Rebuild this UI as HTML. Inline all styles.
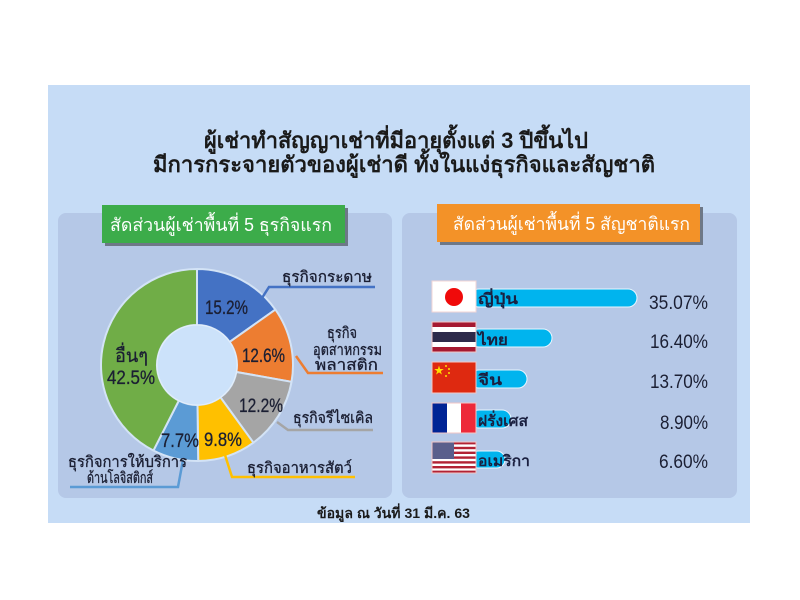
<!DOCTYPE html>
<html><head><meta charset="utf-8"><style>
html,body{margin:0;padding:0;background:#fff;}
svg{display:block;}
text{font-family:"Liberation Sans","Noto Sans CJK SC",sans-serif;}
</style></head><body>
<svg width="800" height="600" viewBox="0 0 800 600" xmlns="http://www.w3.org/2000/svg">
<rect x="0" y="0" width="800" height="600" fill="#ffffff"/>
<rect x="48" y="85" width="702" height="438" fill="#c6dcf6"/>
<!-- title -->
<text x="204" y="148" font-size="22" font-weight="bold" fill="#1a1a1a" textLength="384" lengthAdjust="spacingAndGlyphs">ผู้เช่าทำสัญญาเช่าที่มีอายุตั้งแต่ 3 ปีขึ้นไป</text>
<text x="153" y="172" font-size="22" font-weight="bold" fill="#1a1a1a" textLength="502" lengthAdjust="spacingAndGlyphs">มีการกระจายตัวของผู้เช่าดี ทั้งในแง่ธุรกิจและสัญชาติ</text>
<!-- inner panels -->
<rect x="58" y="213" width="334" height="285" rx="8" fill="#b5c8e7"/>
<rect x="402" y="213" width="335" height="285" rx="8" fill="#b5c8e7"/>
<!-- badges -->
<rect x="105" y="208" width="243" height="38" fill="#6e7887"/>
<rect x="102" y="205" width="243" height="38" fill="#3cac4a"/>
<text x="110" y="231" font-size="18" fill="#ffffff" textLength="222" lengthAdjust="spacingAndGlyphs">สัดส่วนผู้เช่าพื้นที่ 5 ธุรกิจแรก</text>
<rect x="440" y="207" width="263" height="38" fill="#6e7887"/>
<rect x="437" y="204" width="263" height="38" fill="#f39228"/>
<text x="453" y="230" font-size="18" fill="#ffffff" textLength="237" lengthAdjust="spacingAndGlyphs">สัดส่วนผู้เช่าพื้นที่ 5 สัญชาติแรก</text>
<!-- donut -->
<g stroke="#d3e3f6" stroke-width="2" stroke-linejoin="round">
<path d="M197,269 A96,96 0 0 1 275.39,309.59 L229.66,341.91 A40,40 0 0 0 197,325 Z" fill="#4472c4"/>
<path d="M275.39,309.59 A96,96 0 0 1 291.52,381.80 L236.38,372.00 A40,40 0 0 0 229.66,341.91 Z" fill="#ed7d31"/>
<path d="M291.52,381.80 A96,96 0 0 1 253.43,442.67 L220.51,397.36 A40,40 0 0 0 236.38,372.00 Z" fill="#a5a5a5"/>
<path d="M253.43,442.67 A96,96 0 0 1 198.21,460.99 L197.50,405.0 A40,40 0 0 0 220.51,397.36 Z" fill="#ffc000"/>
<path d="M198.21,460.99 A96,96 0 0 1 153.42,450.54 L178.84,400.64 A40,40 0 0 0 197.50,405.0 Z" fill="#5b9bd5"/>
<path d="M153.42,450.54 A96,96 0 0 1 197,269 L197,325 A40,40 0 0 0 178.84,400.64 Z" fill="#70ad47"/>
</g>
<circle cx="197" cy="365" r="40" fill="#cce2fa" stroke="#e4effb" stroke-width="1"/>
<!-- slice labels -->
<g font-size="19" fill="#1b1f33" stroke="#1b1f33" stroke-width="0.3">
<text x="205" y="314" textLength="43" lengthAdjust="spacingAndGlyphs">15.2%</text>
<text x="242" y="362" textLength="43" lengthAdjust="spacingAndGlyphs">12.6%</text>
<text x="239" y="412" textLength="44" lengthAdjust="spacingAndGlyphs">12.2%</text>
<text x="204" y="446" textLength="38" lengthAdjust="spacingAndGlyphs">9.8%</text>
<text x="161" y="447" textLength="38" lengthAdjust="spacingAndGlyphs">7.7%</text>
<text x="115" y="362" textLength="33" lengthAdjust="spacingAndGlyphs">อื่นๆ</text>
<text x="107" y="384" textLength="48" lengthAdjust="spacingAndGlyphs">42.5%</text>
</g>
<!-- leader lines -->
<g fill="none" stroke-width="2.5">
<polyline points="262,298 269,287 375,287" stroke="#4472c4"/>
<polyline points="296,356 308,373 383,373" stroke="#ed7d31"/>
<polyline points="277,422 288,430 373,430" stroke="#a5a5a5"/>
<polyline points="225,455 232,477 355,477" stroke="#ffc000"/>
<polyline points="183,460 178,487 70,487" stroke="#5b9bd5"/>
</g>
<g font-size="15.5" fill="#1b1f33" stroke="#1b1f33" stroke-width="0.35">
<text x="282" y="282" textLength="90" lengthAdjust="spacingAndGlyphs">ธุรกิจกระดาษ</text>
<text x="327" y="338" textLength="30" lengthAdjust="spacingAndGlyphs">ธุรกิจ</text>
<text x="313" y="355" textLength="69" lengthAdjust="spacingAndGlyphs">อุตสาหกรรม</text>
<text x="315" y="370" textLength="63" lengthAdjust="spacingAndGlyphs">พลาสติก</text>
<text x="293" y="423" textLength="80" lengthAdjust="spacingAndGlyphs">ธุรกิจรีไซเคิล</text>
<text x="247" y="473" textLength="105" lengthAdjust="spacingAndGlyphs">ธุรกิจอาหารสัตว์</text>
<text x="68" y="467" textLength="119" lengthAdjust="spacingAndGlyphs">ธุรกิจการให้บริการ</text>
<text x="87" y="483" textLength="66" lengthAdjust="spacingAndGlyphs">ด้านโลจิสติกส์</text>
</g>
<!-- bars -->
<g fill="#00b4ee" stroke="#e8f6ff" stroke-width="1">
<rect x="470" y="289" width="167" height="18" rx="9"/>
<rect x="470" y="329" width="82" height="18" rx="9"/>
<rect x="470" y="370" width="57" height="18" rx="9"/>
<rect x="470" y="410" width="41" height="18" rx="9"/>
<rect x="470" y="451" width="35" height="17" rx="8.5"/>
</g>
<!-- flags -->
<g>
<rect x="432" y="281" width="44" height="31" fill="#ffffff" stroke="#f3d6d6" stroke-width="1"/>
<circle cx="454" cy="297" r="9" fill="#f00a0a"/>

<g>
<rect x="432" y="322" width="44" height="30" fill="#ffffff"/>
<rect x="432" y="322" width="44" height="5" fill="#a51931"/>
<rect x="432" y="332" width="44" height="10" fill="#2d2a4a"/>
<rect x="432" y="347" width="44" height="5" fill="#a51931"/>
<rect x="432" y="322" width="44" height="30" fill="none" stroke="#f3c6c6" stroke-width="1"/>
</g>

<g>
<rect x="432" y="362" width="44" height="31" fill="#de2910" stroke="#f3c6c6" stroke-width="1"/>
<text x="434" y="374" font-size="10" fill="#ffde00">★</text>
<circle cx="446" cy="366" r="1" fill="#ffde00"/>
<circle cx="449" cy="369" r="1" fill="#ffde00"/>
<circle cx="449" cy="373" r="1" fill="#ffde00"/>
<circle cx="446" cy="376" r="1" fill="#ffde00"/>
</g>

<g>
<rect x="432" y="403" width="15" height="30" fill="#002395"/>
<rect x="447" y="403" width="14" height="30" fill="#ffffff"/>
<rect x="461" y="403" width="15" height="30" fill="#ed2939"/>
<rect x="432" y="403" width="44" height="30" fill="none" stroke="#f3c6c6" stroke-width="1"/>
</g>

<g>
<rect x="432" y="442" width="44" height="31" fill="#ffffff"/>
<g fill="#b22234">
<rect x="432" y="442" width="44" height="2.4"/>
<rect x="432" y="446.8" width="44" height="2.4"/>
<rect x="432" y="451.6" width="44" height="2.4"/>
<rect x="432" y="456.4" width="44" height="2.4"/>
<rect x="432" y="461.2" width="44" height="2.4"/>
<rect x="432" y="466" width="44" height="2.4"/>
<rect x="432" y="470.6" width="44" height="2.4"/>
</g>
<rect x="432" y="442" width="22" height="17" fill="#5a5f8c"/>
<rect x="432" y="442" width="44" height="31" fill="none" stroke="#f3c6c6" stroke-width="1"/>
</g>
</g>
<!-- country labels -->
<g font-size="15" font-weight="bold" fill="#1b2040">
<text x="478" y="304" textLength="40" lengthAdjust="spacingAndGlyphs">ญี่ปุ่น</text>
<text x="478" y="345" textLength="30" lengthAdjust="spacingAndGlyphs">ไทย</text>
<text x="478" y="385" textLength="24" lengthAdjust="spacingAndGlyphs">จีน</text>
<text x="478" y="426" textLength="50" lengthAdjust="spacingAndGlyphs">ฝรั่งเศส</text>
<text x="478" y="466" textLength="52" lengthAdjust="spacingAndGlyphs">อเมริกา</text>
</g>
<!-- percentages -->
<g font-size="19" fill="#1b1f33">
<text x="649" y="309" textLength="59" lengthAdjust="spacingAndGlyphs">35.07%</text>
<text x="650" y="348" textLength="58" lengthAdjust="spacingAndGlyphs">16.40%</text>
<text x="650" y="388" textLength="58" lengthAdjust="spacingAndGlyphs">13.70%</text>
<text x="660" y="429" textLength="48" lengthAdjust="spacingAndGlyphs">8.90%</text>
<text x="659" y="468" textLength="49" lengthAdjust="spacingAndGlyphs">6.60%</text>
</g>
<!-- footer -->
<text x="317" y="518" font-size="14" font-weight="bold" fill="#1a1a1a" textLength="153" lengthAdjust="spacingAndGlyphs">ข้อมูล ณ วันที่ 31 มี.ค. 63</text>
</svg>
</body></html>
